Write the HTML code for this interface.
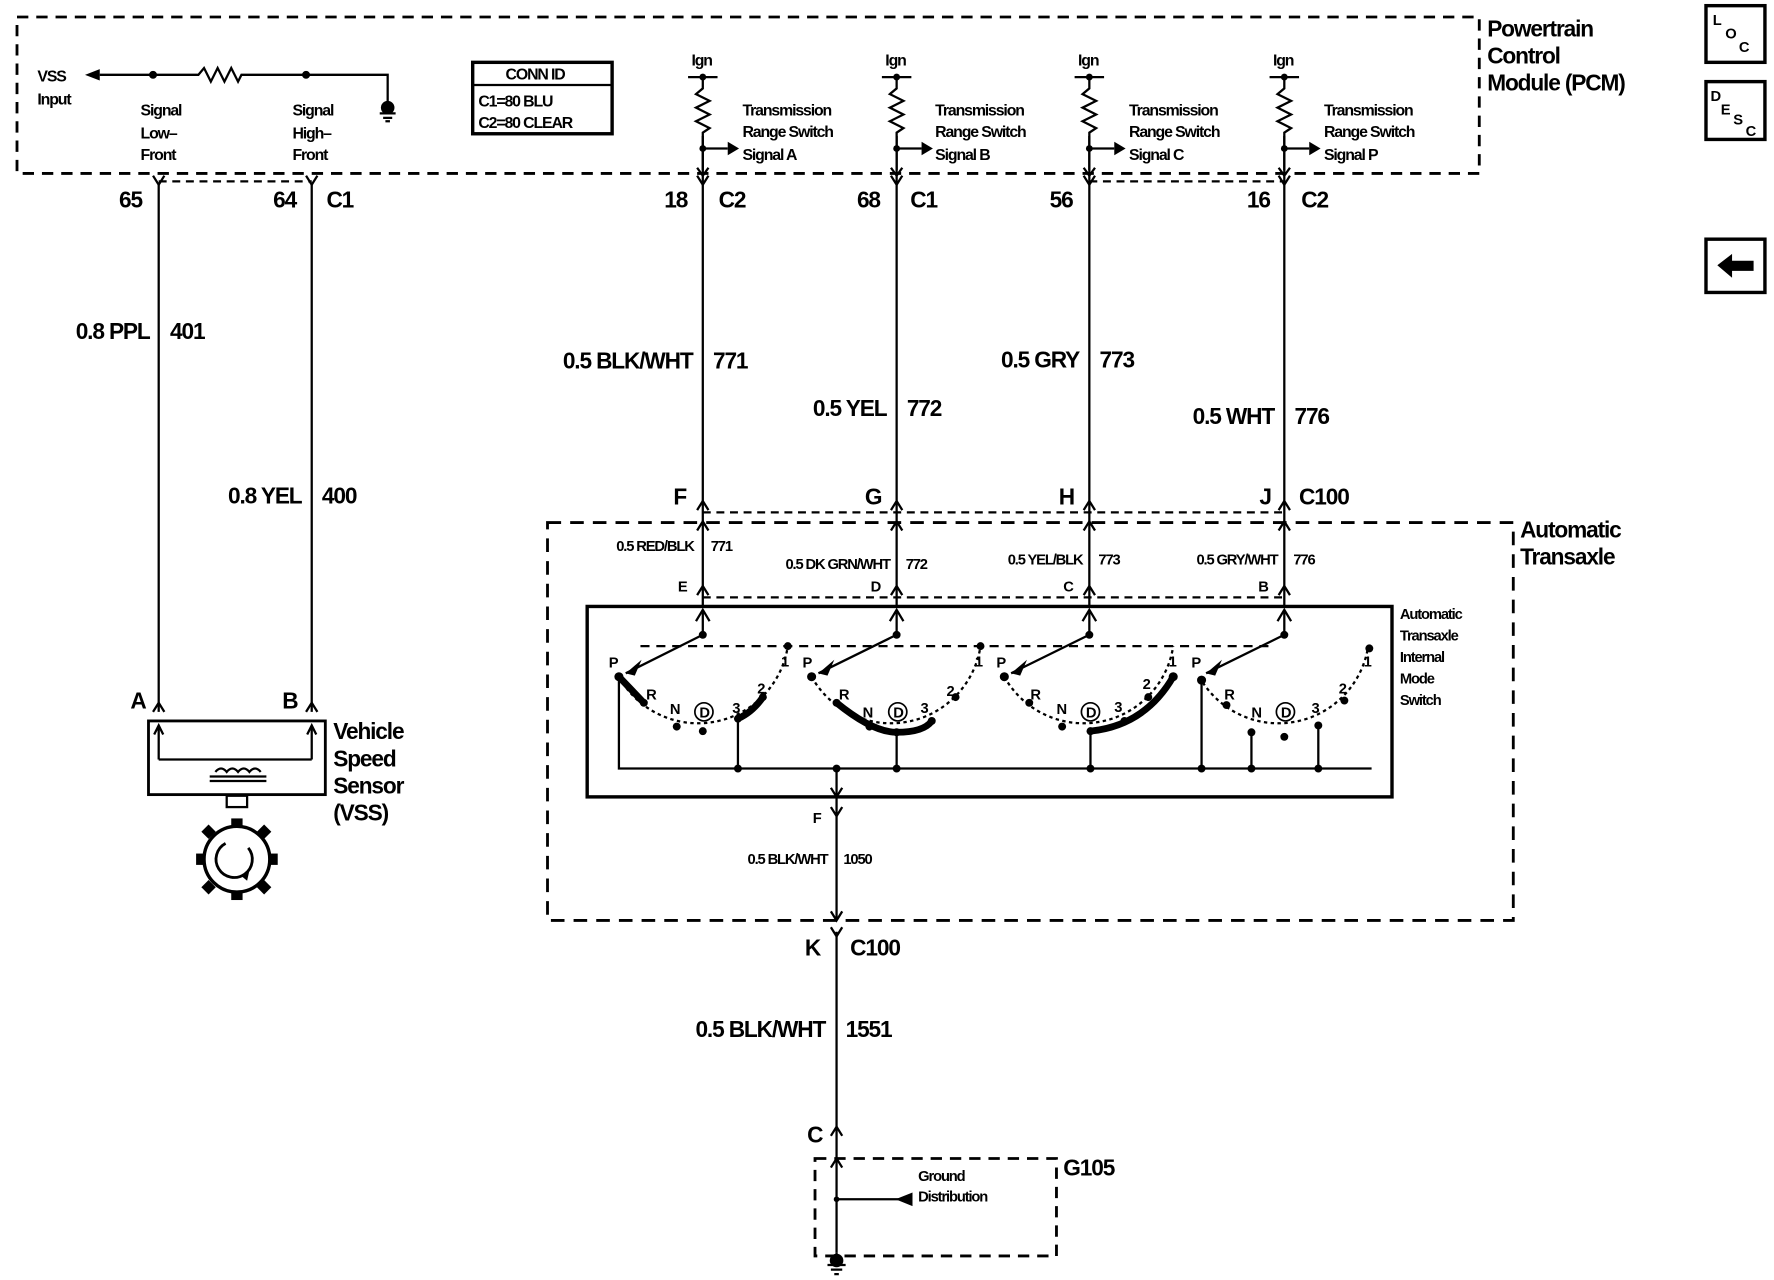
<!DOCTYPE html>
<html><head><meta charset="utf-8"><style>
html,body{margin:0;padding:0;background:#fff;}
svg{display:block;}
text{font-family:"Liberation Sans",sans-serif;font-weight:bold;fill:#000;letter-spacing:-1px;}
.b{font-size:20px;}
.m{font-size:14px;}
.s{font-size:13px;}
</style></head><body>
<svg width="1774" height="1280" viewBox="0 0 1565 1129.2" xmlns="http://www.w3.org/2000/svg">
<g stroke="#000" fill="none" stroke-width="2">
<rect x="15" y="15" width="1290" height="138" stroke-dasharray="10,7" stroke-width="2.5"/>
<path d="M135,66 L88,66"/>
<path d="M135,66 L175,66 l5,-6 l6,12 l6,-12 l6,12 l6,-12 l6,12 l3,-6 L342,66 L342,92"/>
<circle cx="135" cy="66" r="2.5" fill="#000"/><circle cx="270" cy="66" r="2.5" fill="#000"/>
<circle cx="342" cy="95" r="5" fill="#000"/>
<path d="M335,100 h14 M338,104 h8 M340,107 h4"/>
<rect x="417" y="55" width="123" height="63" stroke-width="3"/>
<line x1="417" y1="75" x2="540" y2="75"/>
<path d="M140,160 H275 M961,160 H1133" stroke-dasharray="7,5"/>
<path d="M620,452 H1133 M620,527 H1133" stroke-dasharray="7,5"/>
<rect x="483" y="461" width="852" height="351" stroke-dasharray="12,8" stroke-width="2.5"/>
<rect x="518" y="535" width="710" height="168" stroke-width="3"/>
<path d="M565,570 H1120" stroke-dasharray="8,6"/>
<rect x="719" y="1022" width="213" height="86" stroke-dasharray="10,7" stroke-width="2.5"/>
<rect x="131" y="636" width="156" height="65" stroke-width="2.5"/>
<path d="M140,670 V642 M275,670 V642 M140,670 H275"/>
<path d="M136,648 L140,640 L144,648 M271,648 L275,640 L279,648"/>
<path d="M185,685 h50 M185,689 h50 M190,681 q5,-6 10,0 q5,-6 10,0 q5,-6 10,0 q5,-6 10,0"/>
<rect x="200" y="702" width="18" height="10"/>
<circle cx="209" cy="758" r="29" stroke-width="3"/>
<path d="M199,744 a16,16 0 1,0 20,4" stroke-width="2.5"/>
</g>
<g fill="#000">
<path d="M75,66 L88,61 L88,71 Z"/>
<rect x="204" y="722" width="10" height="8"/><rect x="204" y="786" width="10" height="8"/>
<rect x="173" y="753" width="8" height="10"/><rect x="237" y="753" width="8" height="10"/>
<rect x="180" y="729" width="9" height="9" transform="rotate(45 184 733)"/><rect x="229" y="729" width="9" height="9" transform="rotate(45 233 733)"/>
<rect x="180" y="778" width="9" height="9" transform="rotate(45 184 782)"/><rect x="229" y="778" width="9" height="9" transform="rotate(45 233 782)"/>
<path d="M212,772 l8,-4 l-2,9 z"/>
</g>
<g stroke="#000" fill="none" stroke-width="2">
<path d="M140,163 V628 M275,163 V628"/>
<path d="M620,120 V535 M791,120 V535 M961,120 V535 M1133,120 V535"/>
<path d="M738,678 V812 M738,822 V1105"/>
<path d="M135,155 L140,163 L145,155 M270,155 L275,163 L280,155 M615,155 L620,163 L625,155 M786,155 L791,163 L796,155 M956,155 L961,163 L966,155 M1128,155 L1133,163 L1138,155"/>
<path d="M733,712 L738,720 L743,712 M733,818 L738,826 L743,818"/>
<path d="M135,628 L140,620 L145,628 M270,628 L275,620 L280,628"/>
<path d="M615,450 L620,442 L625,450 M786,450 L791,442 L796,450 M956,450 L961,442 L966,450 M1128,450 L1133,442 L1138,450"/>
<path d="M615,468 L620,460 L625,468 M786,468 L791,460 L796,468 M956,468 L961,460 L966,468 M1128,468 L1133,460 L1138,468"/>
<path d="M615,525 L620,517 L625,525 M786,525 L791,517 L796,525 M956,525 L961,517 L966,525 M1128,525 L1133,517 L1138,525"/>
<path d="M733,1030 L738,1022 L743,1030"/>
<path d="M733,1002 L738,994 L743,1002"/>
<path d="M733,695 L738,703 L743,695 M733,804 L738,812 L743,804"/>
<g id="ign">
<path d="M607,68 H633"/>
<path d="M620,68 V78 l-6,5 l12,6 l-12,6 l12,6 l-12,6 l12,6 l-6,4 V150"/>
<path d="M620,131 H642"/>
<path d="M615,148 L620,155 L625,148"/>
</g>
<use href="#ign" x="171"/><use href="#ign" x="341"/><use href="#ign" x="513"/>
<path d="M620,560 V540 M791,560 V540 M961,560 V540 M1133,560 V540"/>
<path d="M614,548 L620,538 L626,548 M785,548 L791,538 L797,548 M955,548 L961,538 L967,548 M1127,548 L1133,538 L1139,548"/>
<path d="M620,560 L552,594 M791,560 L722,594 M961,560 L892,594 M1133,560 L1064,594"/>
<g stroke-dasharray="3,3">
<path d="M546,597 A80,80 0 0,0 695,570"/>
<path d="M716,597 A80,80 0 0,0 865,570"/>
<path d="M886,597 A80,80 0 0,0 1035,570"/>
<path d="M1058,597 A80,80 0 0,0 1207,570"/>
</g>
<g stroke-width="6" stroke-linecap="round">
<path d="M546,597 L568,620"/>
<path d="M651,634 Q664,628 673,615"/>
<path d="M738,620 Q770,646 791,646 Q815,646 822,636"/>
<path d="M962,645 Q1010,640 1035,597"/>
</g>
<path d="M546,597 V678 H1210 M651,634 V678 M791,646 V678 M962,645 V678 M1060,600 V678 M1104,646 V678 M1163,640 V678"/>
<path d="M738,1058 H795"/>
<path d="M738,1105 V1114 M730,1116 h16 M733,1120 h10 M736,1124 h4"/>
<rect x="1505" y="5" width="52" height="50" stroke-width="3"/>
<rect x="1505" y="72" width="52" height="51" stroke-width="3"/>
<rect x="1505" y="211" width="52" height="47" stroke-width="3"/>
</g>
<g fill="#000">
<path d="M805,1052 L790,1058 L805,1064 Z"/>
<circle cx="738" cy="1112" r="6"/>
<circle cx="738" cy="1058" r="2.5"/>
<path d="M1515,234 L1528,224 L1528,230 L1547,230 L1547,239 L1528,239 L1528,245 Z"/>
<circle cx="620" cy="68" r="3"/><circle cx="791" cy="68" r="3"/><circle cx="961" cy="68" r="3"/><circle cx="1133" cy="68" r="3"/>
<circle cx="620" cy="131" r="3"/><circle cx="791" cy="131" r="3"/><circle cx="961" cy="131" r="3"/><circle cx="1133" cy="131" r="3"/>
<path d="M642,125 L652,131 L642,137Z M813,125 L823,131 L813,137Z M983,125 L993,131 L983,137Z M1155,125 L1165,131 L1155,137Z"/>
<circle cx="620" cy="560" r="3.5"/><circle cx="791" cy="560" r="3.5"/><circle cx="961" cy="560" r="3.5"/><circle cx="1133" cy="560" r="3.5"/>
<path d="M552,594 L566,582 L560,596Z M722,594 L736,582 L730,596Z M892,594 L906,582 L900,596Z M1064,594 L1078,582 L1072,596Z"/>
<circle cx="546" cy="597" r="4"/><circle cx="568" cy="620" r="3.5"/><circle cx="597" cy="641" r="3.5"/><circle cx="620" cy="645" r="3.5"/><circle cx="651" cy="634" r="3.5"/><circle cx="673" cy="615" r="3.5"/><circle cx="695" cy="570" r="3.5"/>
<circle cx="716" cy="597" r="4"/><circle cx="738" cy="620" r="3.5"/><circle cx="767" cy="641" r="3.5"/><circle cx="791" cy="646" r="3.5"/><circle cx="822" cy="636" r="3.5"/><circle cx="843" cy="615" r="3.5"/><circle cx="865" cy="570" r="3.5"/>
<circle cx="886" cy="597" r="4"/><circle cx="908" cy="620" r="3.5"/><circle cx="937" cy="641" r="3.5"/><circle cx="962" cy="645" r="3.5"/><circle cx="992" cy="636" r="3.5"/><circle cx="1013" cy="615" r="3.5"/><circle cx="1035" cy="597" r="4"/>
<circle cx="1060" cy="600" r="4"/><circle cx="1082" cy="622" r="3.5"/><circle cx="1104" cy="646" r="3.5"/><circle cx="1133" cy="650" r="3.5"/><circle cx="1163" cy="640" r="3.5"/><circle cx="1186" cy="618" r="3.5"/><circle cx="1208" cy="572" r="3.5"/>
<circle cx="651" cy="678" r="3.5"/><circle cx="738" cy="678" r="3.5"/><circle cx="791" cy="678" r="3.5"/><circle cx="962" cy="678" r="3.5"/><circle cx="1060" cy="678" r="3.5"/><circle cx="1104" cy="678" r="3.5"/><circle cx="1163" cy="678" r="3.5"/>
</g>
<g stroke="#000" fill="none" stroke-width="1.5">
<circle cx="621" cy="628" r="8"/><circle cx="792" cy="628" r="8"/><circle cx="962" cy="628" r="8"/><circle cx="1134" cy="628" r="8"/>
</g>
<text class="b" x="1312" y="32">Powertrain</text>
<text class="b" x="1312" y="56">Control</text>
<text class="b" x="1312" y="80">Module (PCM)</text>
<text class="m" x="33" y="72">VSS</text>
<text class="m" x="33" y="92">Input</text>
<text class="m" x="124" y="102">Signal</text><text class="m" x="124" y="122">Low–</text><text class="m" x="124" y="141">Front</text>
<text class="m" x="258" y="102">Signal</text><text class="m" x="258" y="122">High–</text><text class="m" x="258" y="141">Front</text>
<text class="m" x="446" y="70">CONN ID</text>
<text class="m" x="422" y="94">C1=80 BLU</text>
<text class="m" x="422" y="113">C2=80 CLEAR</text>
<text class="m" x="610" y="58">Ign</text><text class="m" x="781" y="58">Ign</text><text class="m" x="951" y="58">Ign</text><text class="m" x="1123" y="58">Ign</text>
<text class="m" x="655" y="102">Transmission</text><text class="m" x="655" y="121">Range Switch</text><text class="m" x="655" y="141">Signal A</text>
<text class="m" x="825" y="102">Transmission</text><text class="m" x="825" y="121">Range Switch</text><text class="m" x="825" y="141">Signal B</text>
<text class="m" x="996" y="102">Transmission</text><text class="m" x="996" y="121">Range Switch</text><text class="m" x="996" y="141">Signal C</text>
<text class="m" x="1168" y="102">Transmission</text><text class="m" x="1168" y="121">Range Switch</text><text class="m" x="1168" y="141">Signal P</text>
<text class="b" x="105" y="183">65</text><text class="b" x="241" y="183">64</text><text class="b" x="288" y="183">C1</text>
<text class="b" x="586" y="183">18</text><text class="b" x="634" y="183">C2</text>
<text class="b" x="756" y="183">68</text><text class="b" x="803" y="183">C1</text>
<text class="b" x="926" y="183">56</text>
<text class="b" x="1100" y="183">16</text><text class="b" x="1148" y="183">C2</text>
<text class="b" x="132" y="299" text-anchor="end">0.8 PPL</text><text class="b" x="150" y="299">401</text>
<text class="b" x="266" y="444" text-anchor="end">0.8 YEL</text><text class="b" x="284" y="444">400</text>
<text class="b" x="611" y="325" text-anchor="end">0.5 BLK/WHT</text><text class="b" x="629" y="325">771</text>
<text class="b" x="782" y="367" text-anchor="end">0.5 YEL</text><text class="b" x="800" y="367">772</text>
<text class="b" x="952" y="324" text-anchor="end">0.5 GRY</text><text class="b" x="970" y="324">773</text>
<text class="b" x="1124" y="374" text-anchor="end">0.5 WHT</text><text class="b" x="1142" y="374">776</text>
<text class="b" x="594" y="445">F</text><text class="b" x="763" y="445">G</text><text class="b" x="934" y="445">H</text><text class="b" x="1111" y="445">J</text><text class="b" x="1146" y="445">C100</text>
<text class="b" x="1341" y="474">Automatic</text><text class="b" x="1341" y="498">Transaxle</text>
<text class="s" x="612" y="486" text-anchor="end">0.5 RED/BLK</text><text class="s" x="627" y="486">771</text>
<text class="s" x="785" y="502" text-anchor="end">0.5 DK GRN/WHT</text><text class="s" x="799" y="502">772</text>
<text class="s" x="955" y="498" text-anchor="end">0.5 YEL/BLK</text><text class="s" x="969" y="498">773</text>
<text class="s" x="1127" y="498" text-anchor="end">0.5 GRY/WHT</text><text class="s" x="1141" y="498">776</text>
<text class="s" x="598" y="522">E</text><text class="s" x="768" y="522">D</text><text class="s" x="938" y="522">C</text><text class="s" x="1110" y="522">B</text>
<text class="s" x="1235" y="546">Automatic</text><text class="s" x="1235" y="565">Transaxle</text><text class="s" x="1235" y="584">Internal</text><text class="s" x="1235" y="603">Mode</text><text class="s" x="1235" y="622">Switch</text>
<text class="s" x="537" y="589">P</text><text class="s" x="570" y="617">R</text><text class="s" x="591" y="630">N</text><text class="s" x="617" y="633">D</text><text class="s" x="646" y="629">3</text><text class="s" x="668" y="612">2</text><text class="s" x="689" y="588">1</text>
<text class="s" x="708" y="589">P</text><text class="s" x="740" y="617">R</text><text class="s" x="761" y="633">N</text><text class="s" x="788" y="633">D</text><text class="s" x="812" y="629">3</text><text class="s" x="835" y="614">2</text><text class="s" x="860" y="588">1</text>
<text class="s" x="879" y="589">P</text><text class="s" x="909" y="617">R</text><text class="s" x="932" y="630">N</text><text class="s" x="958" y="633">D</text><text class="s" x="983" y="628">3</text><text class="s" x="1008" y="608">2</text><text class="s" x="1031" y="588">1</text>
<text class="s" x="1051" y="589">P</text><text class="s" x="1080" y="617">R</text><text class="s" x="1104" y="633">N</text><text class="s" x="1130" y="633">D</text><text class="s" x="1157" y="629">3</text><text class="s" x="1181" y="612">2</text><text class="s" x="1203" y="588">1</text>
<text class="s" x="717" y="726">F</text>
<text class="s" x="730" y="762" text-anchor="end">0.5 BLK/WHT</text><text class="s" x="744" y="762">1050</text>
<text class="b" x="710" y="843">K</text><text class="b" x="750" y="843">C100</text>
<text class="b" x="728" y="915" text-anchor="end">0.5 BLK/WHT</text><text class="b" x="746" y="915">1551</text>
<text class="b" x="712" y="1008">C</text>
<text class="b" x="938" y="1037">G105</text>
<text class="s" x="810" y="1042">Ground</text><text class="s" x="810" y="1060">Distribution</text>
<text class="b" x="115" y="625">A</text><text class="b" x="249" y="625">B</text>
<text class="b" x="294" y="652">Vehicle</text><text class="b" x="294" y="676">Speed</text><text class="b" x="294" y="700">Sensor</text><text class="b" x="294" y="724">(VSS)</text>
<text class="s" x="1511" y="22">L</text><text class="s" x="1522" y="34">O</text><text class="s" x="1534" y="46">C</text>
<text class="s" x="1509" y="89">D</text><text class="s" x="1518" y="101">E</text><text class="s" x="1529" y="110">S</text><text class="s" x="1540" y="120">C</text>
</svg>
</body></html>
